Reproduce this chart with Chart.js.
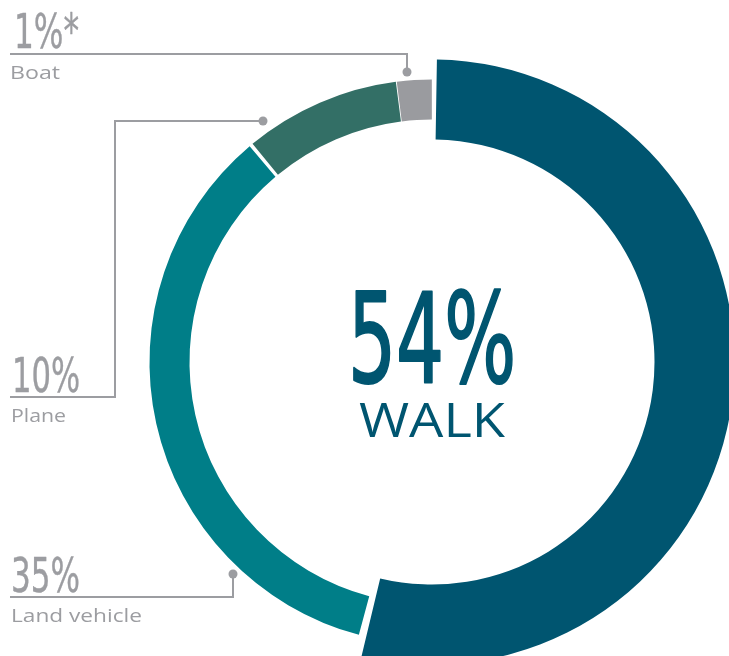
<!DOCTYPE html>
<html>
<head>
<meta charset="utf-8">
<script src="https://cdn.jsdelivr.net/npm/chart.js@4.4.1/dist/chart.umd.min.js"></script>
<style>
  html, body { margin: 0; padding: 0; background: #ffffff; }
  #wrap { position: relative; width: 729px; height: 656px; overflow: hidden; }
  canvas { display: block; }
</style>
</head>
<body>
<div id="wrap"><canvas id="c" width="729" height="656"></canvas></div>
<script>
// ---- data ----
const categories   = ['Walk', 'Land vehicle', 'Plane', 'Boat'];
const sliceShares  = [54, 35, 9, 2];            // drawn slice sizes (%)
const valueLabels  = ['54%', '35%', '10%', '1%*'];
const centerValue  = '54%';
const centerLabel  = 'WALK';

// ---- styles ----
const sliceColors = ['#005570', '#007e88', '#336f66', '#9a9b9f'];
const grey = '#9c9da1';
const numFont = '"Liberation Sans Narrow", "DejaVu Sans Condensed", "Liberation Sans", sans-serif';
const txtFont = '"Open Sans", Lato, sans-serif';

// thicker ring for the first (headline) slice
const thickenPlugin = {
  id: 'thicken',
  afterDatasetsUpdate(chart) {
    const arc = chart.getDatasetMeta(0).data[0];
    if (arc) { arc.outerRadius += 20; arc.innerRadius -= 20; }
  }
};

function fitText(ctx, text, x, y, font, color, targetW, align, strokeW) {
  ctx.save();
  ctx.font = font;
  ctx.fillStyle = color;
  ctx.strokeStyle = color;
  ctx.textBaseline = 'alphabetic';
  const w = ctx.measureText(text).width;
  const s = targetW ? targetW / w : 1;
  ctx.translate(x, y);
  ctx.scale(s, 1);
  ctx.textAlign = align || 'left';
  ctx.fillText(text, 0, 0);
  if (strokeW) { ctx.lineWidth = strokeW; ctx.lineJoin = 'round'; ctx.strokeText(text, 0, 0); }
  ctx.restore();
}

const labelPlugin = {
  id: 'labels',
  afterDraw(chart) {
    const ctx = chart.ctx;
    const meta = chart.getDatasetMeta(0);
    const cx = meta.data[0].x;

    // leader lines
    ctx.save();
    ctx.strokeStyle = grey;
    ctx.fillStyle = grey;
    ctx.lineWidth = 2;
    const lines = [
      [[10, 54], [407, 54], [407, 72]],
      [[10, 397], [115, 397], [115, 121], [263, 121]],
      [[10, 597], [233, 597], [233, 574]]
    ];
    const dots = [[407, 72], [263, 121], [233, 574]];
    lines.forEach(pts => {
      ctx.beginPath();
      pts.forEach((p, i) => i ? ctx.lineTo(p[0], p[1]) : ctx.moveTo(p[0], p[1]));
      ctx.stroke();
    });
    dots.forEach(d => { ctx.beginPath(); ctx.arc(d[0], d[1], 4.5, 0, Math.PI * 2); ctx.fill(); });
    ctx.restore();

    // side labels
    fitText(ctx, valueLabels[3], 14, 48, '48px ' + numFont, grey, 65, 'left', 0.4);
    fitText(ctx, categories[3], 10, 79, '19px ' + txtFont, grey, 50);
    fitText(ctx, valueLabels[2], 12, 392, '48px ' + numFont, grey, 68, 'left', 0.4);
    fitText(ctx, categories[2], 11, 422, '19px ' + txtFont, grey, 55);
    fitText(ctx, valueLabels[1], 11, 592, '48px ' + numFont, grey, 69, 'left', 0.4);
    fitText(ctx, categories[1], 11, 622, '19px ' + txtFont, grey, 131);

    // centre
    fitText(ctx, centerValue, cx, 382, '124px ' + numFont, sliceColors[0], 168, 'center', 2);
    fitText(ctx, centerLabel, cx, 437, '48px ' + txtFont, sliceColors[0], 146, 'center');
  }
};

new Chart(document.getElementById('c'), {
  type: 'doughnut',
  data: {
    labels: categories,
    datasets: [{
      data: sliceShares,
      backgroundColor: sliceColors,
      borderWidth: 0,
      spacing: 5,
      clip: false
    }]
  },
  options: {
    responsive: false,
    animation: false,
    devicePixelRatio: 1,
    events: [],
    radius: 280,
    cutout: '85.714%',
    spacing: 5,
    layout: { padding: { left: 135, top: 68, right: 0, bottom: 0 } },
    plugins: { legend: { display: false }, tooltip: { enabled: false } }
  },
  plugins: [thickenPlugin, labelPlugin]
});
</script>
</body>
</html>
